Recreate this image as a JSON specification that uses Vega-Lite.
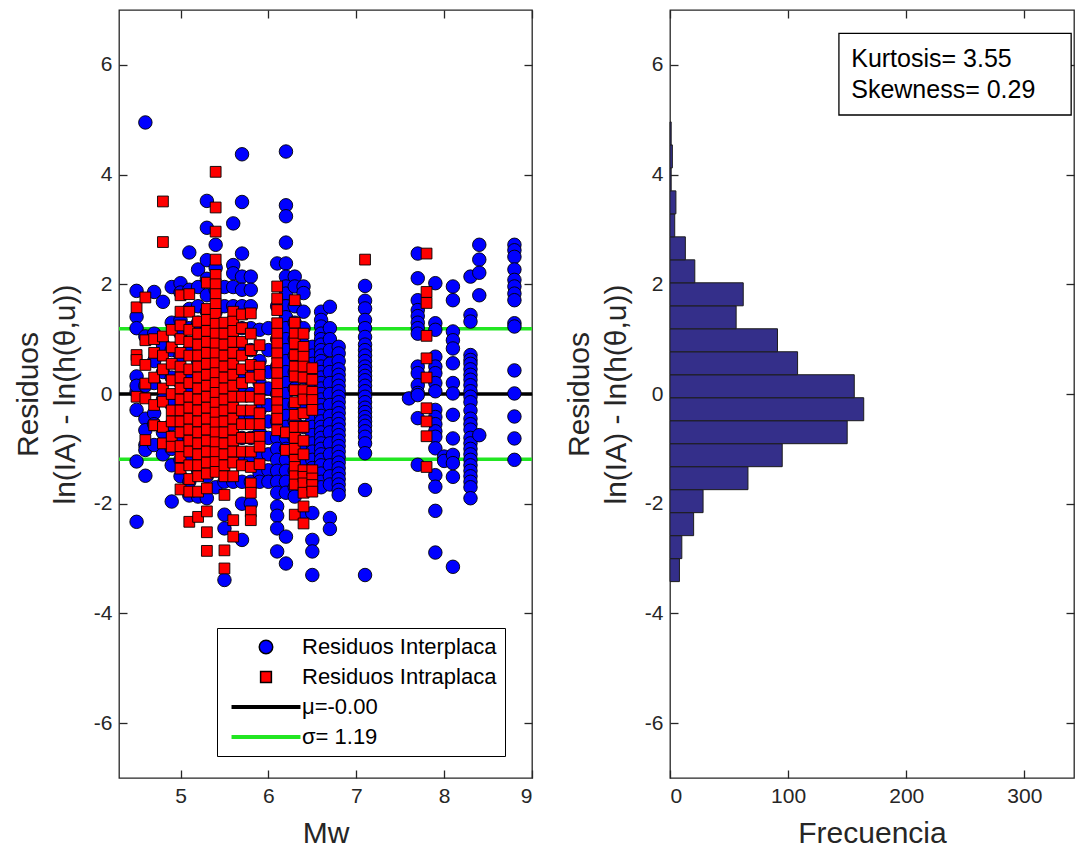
{
  "$schema": "https://vega.github.io/schema/vega-lite/v6.json",
  "background": "white",
  "padding": {"left": 12, "top": 8, "right": 0, "bottom": 0},
  "spacing": 28,
  "config": {
    "font": "Liberation Sans",
    "view": {"stroke": "#262626", "strokeWidth": 1.3},
    "axis": {"labelFont": "Liberation Sans", "titleFont": "Liberation Sans", "labelColor": "#262626", "titleColor": "#262626", "tickColor": "#262626", "domain": false, "grid": false, "labelFontSize": 21, "titleFontSize": 30, "titleFontWeight": "normal", "tickSize": -8, "tickWidth": 1.3, "titleLineHeight": 37}
  },
  "hconcat": [
    {
      "width": 413,
      "height": 768,
      "layer": [
        {
          "data": {"values": [{"v": 0}]},
          "mark": {"type": "rule", "color": "#000000", "strokeWidth": 3.5},
          "encoding": {"y": {"field": "v", "type": "quantitative", "scale": {"domain": [-7, 7], "nice": false}, "axis": null}}
        },
        {
          "data": {"values": [{"v": 1.19}, {"v": -1.19}]},
          "mark": {"type": "rule", "color": "#22e622", "strokeWidth": 3.5},
          "encoding": {"y": {"field": "v", "type": "quantitative", "axis": null}}
        },
        {
          "data": {"values": [
{"m":4.5,"r":1.88,"t":"P"},{"m":4.5,"r":1.41,"t":"P"},{"m":4.5,"r":1.2,"t":"P"},{"m":4.5,"r":0.32,"t":"P"},{"m":4.5,"r":0.04,"t":"P"},{"m":4.5,"r":-0.29,"t":"P"},{"m":4.5,"r":-1.23,"t":"P"},{"m":4.5,"r":-2.33,"t":"P"},{"m":4.5,"r":0.15,"t":"P"},
{"m":4.6,"r":4.95,"t":"P"},{"m":4.6,"r":1.05,"t":"P"},{"m":4.6,"r":0.15,"t":"P"},{"m":4.6,"r":-0.45,"t":"P"},{"m":4.6,"r":-0.66,"t":"P"},{"m":4.6,"r":-0.93,"t":"P"},{"m":4.6,"r":-1.02,"t":"P"},{"m":4.6,"r":-1.49,"t":"P"},
{"m":4.7,"r":1.86,"t":"P"},{"m":4.7,"r":1.1,"t":"P"},{"m":4.7,"r":0.6,"t":"P"},{"m":4.7,"r":0.2,"t":"P"},{"m":4.7,"r":-0.35,"t":"P"},{"m":4.7,"r":-0.55,"t":"P"},{"m":4.7,"r":-0.93,"t":"P"},
{"m":4.8,"r":1.68,"t":"P"},{"m":4.8,"r":0.9,"t":"P"},{"m":4.8,"r":0.4,"t":"P"},{"m":4.8,"r":-0.1,"t":"P"},{"m":4.8,"r":-0.7,"t":"P"},{"m":4.8,"r":-1.1,"t":"P"},
{"m":4.9,"r":1.95,"t":"P"},{"m":4.9,"r":1.3,"t":"P"},{"m":4.9,"r":0.8,"t":"P"},{"m":4.9,"r":0.3,"t":"P"},{"m":4.9,"r":-0.2,"t":"P"},{"m":4.9,"r":-0.55,"t":"P"},{"m":4.9,"r":-1.0,"t":"P"},{"m":4.9,"r":-1.3,"t":"P"},{"m":4.9,"r":-1.96,"t":"P"},
{"m":5.0,"r":2.02,"t":"P"},{"m":5.0,"r":1.85,"t":"P"},{"m":5.0,"r":1.35,"t":"P"},{"m":5.0,"r":1.1,"t":"P"},{"m":5.0,"r":0.7,"t":"P"},{"m":5.0,"r":0.2,"t":"P"},{"m":5.0,"r":-0.3,"t":"P"},{"m":5.0,"r":-0.8,"t":"P"},{"m":5.0,"r":-1.2,"t":"P"},{"m":5.0,"r":-1.5,"t":"P"},
{"m":5.1,"r":2.58,"t":"P"},{"m":5.1,"r":1.9,"t":"P"},{"m":5.1,"r":1.55,"t":"P"},{"m":5.1,"r":1.2,"t":"P"},{"m":5.1,"r":0.8,"t":"P"},{"m":5.1,"r":0.4,"t":"P"},{"m":5.1,"r":0.0,"t":"P"},{"m":5.1,"r":-0.4,"t":"P"},{"m":5.1,"r":-0.8,"t":"P"},{"m":5.1,"r":-1.2,"t":"P"},{"m":5.1,"r":-1.6,"t":"P"},{"m":5.1,"r":-1.85,"t":"P"},
{"m":5.2,"r":2.27,"t":"P"},{"m":5.2,"r":1.95,"t":"P"},{"m":5.2,"r":1.6,"t":"P"},{"m":5.2,"r":1.3,"t":"P"},{"m":5.2,"r":1.0,"t":"P"},{"m":5.2,"r":0.6,"t":"P"},{"m":5.2,"r":0.2,"t":"P"},{"m":5.2,"r":-0.2,"t":"P"},{"m":5.2,"r":-0.6,"t":"P"},{"m":5.2,"r":-1.0,"t":"P"},{"m":5.2,"r":-1.4,"t":"P"},{"m":5.2,"r":-1.87,"t":"P"},
{"m":5.3,"r":3.52,"t":"P"},{"m":5.3,"r":3.03,"t":"P"},{"m":5.3,"r":2.44,"t":"P"},{"m":5.3,"r":2.1,"t":"P"},{"m":5.3,"r":1.8,"t":"P"},{"m":5.3,"r":1.5,"t":"P"},{"m":5.3,"r":1.2,"t":"P"},{"m":5.3,"r":0.9,"t":"P"},{"m":5.3,"r":0.5,"t":"P"},{"m":5.3,"r":0.1,"t":"P"},{"m":5.3,"r":-0.3,"t":"P"},{"m":5.3,"r":-0.7,"t":"P"},{"m":5.3,"r":-1.1,"t":"P"},{"m":5.3,"r":-1.5,"t":"P"},{"m":5.3,"r":-1.9,"t":"P"},
{"m":5.4,"r":2.72,"t":"P"},{"m":5.4,"r":2.3,"t":"P"},{"m":5.4,"r":1.9,"t":"P"},{"m":5.4,"r":1.5,"t":"P"},{"m":5.4,"r":1.1,"t":"P"},{"m":5.4,"r":0.7,"t":"P"},{"m":5.4,"r":0.3,"t":"P"},{"m":5.4,"r":-0.1,"t":"P"},{"m":5.4,"r":-0.5,"t":"P"},{"m":5.4,"r":-0.9,"t":"P"},{"m":5.4,"r":-1.3,"t":"P"},{"m":5.4,"r":-1.7,"t":"P"},
{"m":5.5,"r":1.95,"t":"P"},{"m":5.5,"r":1.6,"t":"P"},{"m":5.5,"r":1.2,"t":"P"},{"m":5.5,"r":0.8,"t":"P"},{"m":5.5,"r":0.4,"t":"P"},{"m":5.5,"r":0.0,"t":"P"},{"m":5.5,"r":-0.4,"t":"P"},{"m":5.5,"r":-0.8,"t":"P"},{"m":5.5,"r":-1.2,"t":"P"},{"m":5.5,"r":-1.6,"t":"P"},{"m":5.5,"r":-2.2,"t":"P"},{"m":5.5,"r":-2.45,"t":"P"},{"m":5.5,"r":-3.39,"t":"P"},
{"m":5.6,"r":3.11,"t":"P"},{"m":5.6,"r":2.35,"t":"P"},{"m":5.6,"r":2.2,"t":"P"},{"m":5.6,"r":1.95,"t":"P"},{"m":5.6,"r":1.6,"t":"P"},{"m":5.6,"r":1.2,"t":"P"},{"m":5.6,"r":0.8,"t":"P"},{"m":5.6,"r":0.4,"t":"P"},{"m":5.6,"r":0.0,"t":"P"},{"m":5.6,"r":-0.4,"t":"P"},{"m":5.6,"r":-0.8,"t":"P"},{"m":5.6,"r":-1.2,"t":"P"},{"m":5.6,"r":-1.6,"t":"P"},
{"m":5.7,"r":4.37,"t":"P"},{"m":5.7,"r":3.5,"t":"P"},{"m":5.7,"r":2.56,"t":"P"},{"m":5.7,"r":2.14,"t":"P"},{"m":5.7,"r":1.9,"t":"P"},{"m":5.7,"r":1.6,"t":"P"},{"m":5.7,"r":1.2,"t":"P"},{"m":5.7,"r":0.8,"t":"P"},{"m":5.7,"r":0.4,"t":"P"},{"m":5.7,"r":0.0,"t":"P"},{"m":5.7,"r":-0.4,"t":"P"},{"m":5.7,"r":-0.8,"t":"P"},{"m":5.7,"r":-1.2,"t":"P"},{"m":5.7,"r":-1.6,"t":"P"},{"m":5.7,"r":-2.0,"t":"P"},{"m":5.7,"r":-2.66,"t":"P"},
{"m":5.8,"r":2.14,"t":"P"},{"m":5.8,"r":1.9,"t":"P"},{"m":5.8,"r":1.6,"t":"P"},{"m":5.8,"r":1.2,"t":"P"},{"m":5.8,"r":0.8,"t":"P"},{"m":5.8,"r":0.4,"t":"P"},{"m":5.8,"r":0.0,"t":"P"},{"m":5.8,"r":-0.4,"t":"P"},{"m":5.8,"r":-0.8,"t":"P"},{"m":5.8,"r":-1.2,"t":"P"},{"m":5.8,"r":-1.6,"t":"P"},{"m":5.8,"r":-2.0,"t":"P"},
{"m":5.9,"r":1.17,"t":"P"},{"m":5.9,"r":0.6,"t":"P"},{"m":5.9,"r":0.2,"t":"P"},{"m":5.9,"r":-0.3,"t":"P"},{"m":5.9,"r":-0.7,"t":"P"},{"m":5.9,"r":-1.1,"t":"P"},{"m":5.9,"r":-1.45,"t":"P"},{"m":5.9,"r":-1.6,"t":"P"},
{"m":6.0,"r":1.2,"t":"P"},{"m":6.0,"r":0.8,"t":"P"},{"m":6.0,"r":0.4,"t":"P"},{"m":6.0,"r":0.1,"t":"P"},{"m":6.0,"r":-0.2,"t":"P"},{"m":6.0,"r":-0.5,"t":"P"},{"m":6.0,"r":-0.8,"t":"P"},{"m":6.0,"r":-1.1,"t":"P"},{"m":6.0,"r":-1.39,"t":"P"},{"m":6.0,"r":-1.6,"t":"P"},
{"m":6.1,"r":2.38,"t":"P"},{"m":6.1,"r":1.6,"t":"P"},{"m":6.1,"r":1.0,"t":"P"},{"m":6.1,"r":0.5,"t":"P"},{"m":6.1,"r":0.0,"t":"P"},{"m":6.1,"r":-0.5,"t":"P"},{"m":6.1,"r":-0.8,"t":"P"},{"m":6.1,"r":-1.0,"t":"P"},{"m":6.1,"r":-1.2,"t":"P"},{"m":6.1,"r":-1.4,"t":"P"},{"m":6.1,"r":-1.6,"t":"P"},{"m":6.1,"r":-1.8,"t":"P"},{"m":6.1,"r":-2.05,"t":"P"},{"m":6.1,"r":-2.22,"t":"P"},{"m":6.1,"r":-2.45,"t":"P"},{"m":6.1,"r":-2.87,"t":"P"},
{"m":6.2,"r":4.42,"t":"P"},{"m":6.2,"r":3.44,"t":"P"},{"m":6.2,"r":3.24,"t":"P"},{"m":6.2,"r":2.76,"t":"P"},{"m":6.2,"r":2.38,"t":"P"},{"m":6.2,"r":2.14,"t":"P"},{"m":6.2,"r":1.96,"t":"P"},{"m":6.2,"r":1.83,"t":"P"},{"m":6.2,"r":1.6,"t":"P"},{"m":6.2,"r":1.4,"t":"P"},{"m":6.2,"r":1.2,"t":"P"},{"m":6.2,"r":1.0,"t":"P"},{"m":6.2,"r":0.8,"t":"P"},{"m":6.2,"r":0.6,"t":"P"},{"m":6.2,"r":0.4,"t":"P"},{"m":6.2,"r":0.2,"t":"P"},{"m":6.2,"r":0.0,"t":"P"},{"m":6.2,"r":-0.2,"t":"P"},{"m":6.2,"r":-0.4,"t":"P"},{"m":6.2,"r":-0.6,"t":"P"},{"m":6.2,"r":-0.8,"t":"P"},{"m":6.2,"r":-1.0,"t":"P"},{"m":6.2,"r":-1.2,"t":"P"},{"m":6.2,"r":-1.4,"t":"P"},{"m":6.2,"r":-1.6,"t":"P"},{"m":6.2,"r":-1.8,"t":"P"},{"m":6.2,"r":-2.6,"t":"P"},{"m":6.2,"r":-3.09,"t":"P"},
{"m":6.3,"r":2.14,"t":"P"},{"m":6.3,"r":1.96,"t":"P"},{"m":6.3,"r":1.6,"t":"P"},{"m":6.3,"r":1.3,"t":"P"},{"m":6.3,"r":1.0,"t":"P"},{"m":6.3,"r":0.7,"t":"P"},{"m":6.3,"r":0.4,"t":"P"},{"m":6.3,"r":0.1,"t":"P"},{"m":6.3,"r":-0.2,"t":"P"},{"m":6.3,"r":-0.5,"t":"P"},{"m":6.3,"r":-0.8,"t":"P"},{"m":6.3,"r":-1.1,"t":"P"},{"m":6.3,"r":-1.4,"t":"P"},{"m":6.3,"r":-1.7,"t":"P"},{"m":6.3,"r":-1.87,"t":"P"},
{"m":6.4,"r":1.96,"t":"P"},{"m":6.4,"r":1.84,"t":"P"},{"m":6.4,"r":1.5,"t":"P"},{"m":6.4,"r":1.2,"t":"P"},{"m":6.4,"r":0.9,"t":"P"},{"m":6.4,"r":0.6,"t":"P"},{"m":6.4,"r":0.3,"t":"P"},{"m":6.4,"r":0.0,"t":"P"},{"m":6.4,"r":-0.3,"t":"P"},{"m":6.4,"r":-0.6,"t":"P"},{"m":6.4,"r":-0.9,"t":"P"},{"m":6.4,"r":-1.2,"t":"P"},{"m":6.4,"r":-1.5,"t":"P"},{"m":6.4,"r":-2.2,"t":"P"},
{"m":6.5,"r":0.86,"t":"P"},{"m":6.5,"r":0.7,"t":"P"},{"m":6.5,"r":0.55,"t":"P"},{"m":6.5,"r":0.4,"t":"P"},{"m":6.5,"r":0.3,"t":"P"},{"m":6.5,"r":0.15,"t":"P"},{"m":6.5,"r":0.0,"t":"P"},{"m":6.5,"r":-0.15,"t":"P"},{"m":6.5,"r":-0.3,"t":"P"},{"m":6.5,"r":-0.45,"t":"P"},{"m":6.5,"r":-0.6,"t":"P"},{"m":6.5,"r":-0.75,"t":"P"},{"m":6.5,"r":-0.9,"t":"P"},{"m":6.5,"r":-1.05,"t":"P"},{"m":6.5,"r":-1.2,"t":"P"},{"m":6.5,"r":-1.35,"t":"P"},{"m":6.5,"r":-1.5,"t":"P"},{"m":6.5,"r":-1.65,"t":"P"},{"m":6.5,"r":-2.17,"t":"P"},{"m":6.5,"r":-2.66,"t":"P"},{"m":6.5,"r":-2.87,"t":"P"},{"m":6.5,"r":-3.3,"t":"P"},
{"m":6.6,"r":1.5,"t":"P"},{"m":6.6,"r":1.35,"t":"P"},{"m":6.6,"r":1.23,"t":"P"},{"m":6.6,"r":1.1,"t":"P"},{"m":6.6,"r":1.0,"t":"P"},{"m":6.6,"r":0.9,"t":"P"},{"m":6.6,"r":0.8,"t":"P"},{"m":6.6,"r":0.7,"t":"P"},{"m":6.6,"r":0.6,"t":"P"},{"m":6.6,"r":0.5,"t":"P"},{"m":6.6,"r":0.4,"t":"P"},{"m":6.6,"r":0.3,"t":"P"},{"m":6.6,"r":0.2,"t":"P"},{"m":6.6,"r":0.1,"t":"P"},{"m":6.6,"r":0.0,"t":"P"},{"m":6.6,"r":-0.1,"t":"P"},{"m":6.6,"r":-0.2,"t":"P"},{"m":6.6,"r":-0.3,"t":"P"},{"m":6.6,"r":-0.4,"t":"P"},{"m":6.6,"r":-0.5,"t":"P"},{"m":6.6,"r":-0.6,"t":"P"},{"m":6.6,"r":-0.7,"t":"P"},{"m":6.6,"r":-0.8,"t":"P"},{"m":6.6,"r":-0.9,"t":"P"},{"m":6.6,"r":-1.0,"t":"P"},{"m":6.6,"r":-1.1,"t":"P"},{"m":6.6,"r":-1.2,"t":"P"},{"m":6.6,"r":-1.3,"t":"P"},{"m":6.6,"r":-1.45,"t":"P"},{"m":6.6,"r":-1.6,"t":"P"},{"m":6.6,"r":-1.7,"t":"P"},
{"m":6.7,"r":1.59,"t":"P"},{"m":6.7,"r":1.2,"t":"P"},{"m":6.7,"r":1.0,"t":"P"},{"m":6.7,"r":0.8,"t":"P"},{"m":6.7,"r":0.55,"t":"P"},{"m":6.7,"r":0.4,"t":"P"},{"m":6.7,"r":0.2,"t":"P"},{"m":6.7,"r":0.0,"t":"P"},{"m":6.7,"r":-0.2,"t":"P"},{"m":6.7,"r":-0.4,"t":"P"},{"m":6.7,"r":-0.55,"t":"P"},{"m":6.7,"r":-0.7,"t":"P"},{"m":6.7,"r":-0.9,"t":"P"},{"m":6.7,"r":-1.1,"t":"P"},{"m":6.7,"r":-1.3,"t":"P"},{"m":6.7,"r":-1.5,"t":"P"},{"m":6.7,"r":-1.65,"t":"P"},{"m":6.7,"r":-2.26,"t":"P"},{"m":6.7,"r":-2.46,"t":"P"},
{"m":6.8,"r":0.86,"t":"P"},{"m":6.8,"r":0.74,"t":"P"},{"m":6.8,"r":0.6,"t":"P"},{"m":6.8,"r":0.45,"t":"P"},{"m":6.8,"r":0.35,"t":"P"},{"m":6.8,"r":0.25,"t":"P"},{"m":6.8,"r":0.15,"t":"P"},{"m":6.8,"r":0.05,"t":"P"},{"m":6.8,"r":-0.05,"t":"P"},{"m":6.8,"r":-0.15,"t":"P"},{"m":6.8,"r":-0.25,"t":"P"},{"m":6.8,"r":-0.35,"t":"P"},{"m":6.8,"r":-0.45,"t":"P"},{"m":6.8,"r":-0.55,"t":"P"},{"m":6.8,"r":-0.65,"t":"P"},{"m":6.8,"r":-0.75,"t":"P"},{"m":6.8,"r":-0.85,"t":"P"},{"m":6.8,"r":-0.95,"t":"P"},{"m":6.8,"r":-1.05,"t":"P"},{"m":6.8,"r":-1.15,"t":"P"},{"m":6.8,"r":-1.25,"t":"P"},{"m":6.8,"r":-1.35,"t":"P"},{"m":6.8,"r":-1.45,"t":"P"},{"m":6.8,"r":-1.55,"t":"P"},{"m":6.8,"r":-1.65,"t":"P"},{"m":6.8,"r":-1.75,"t":"P"},{"m":6.8,"r":-1.84,"t":"P"},
{"m":7.1,"r":1.97,"t":"P"},{"m":7.1,"r":1.7,"t":"P"},{"m":7.1,"r":1.56,"t":"P"},{"m":7.1,"r":1.35,"t":"P"},{"m":7.1,"r":1.2,"t":"P"},{"m":7.1,"r":1.04,"t":"P"},{"m":7.1,"r":0.9,"t":"P"},{"m":7.1,"r":0.8,"t":"P"},{"m":7.1,"r":0.7,"t":"P"},{"m":7.1,"r":0.6,"t":"P"},{"m":7.1,"r":0.5,"t":"P"},{"m":7.1,"r":0.42,"t":"P"},{"m":7.1,"r":0.33,"t":"P"},{"m":7.1,"r":0.25,"t":"P"},{"m":7.1,"r":0.15,"t":"P"},{"m":7.1,"r":0.05,"t":"P"},{"m":7.1,"r":-0.05,"t":"P"},{"m":7.1,"r":-0.15,"t":"P"},{"m":7.1,"r":-0.25,"t":"P"},{"m":7.1,"r":-0.33,"t":"P"},{"m":7.1,"r":-0.42,"t":"P"},{"m":7.1,"r":-0.5,"t":"P"},{"m":7.1,"r":-0.58,"t":"P"},{"m":7.1,"r":-0.68,"t":"P"},{"m":7.1,"r":-0.78,"t":"P"},{"m":7.1,"r":-0.9,"t":"P"},{"m":7.1,"r":-1.08,"t":"P"},{"m":7.1,"r":-1.75,"t":"P"},{"m":7.1,"r":-3.3,"t":"P"},
{"m":7.6,"r":-0.08,"t":"P"},
{"m":7.7,"r":2.56,"t":"P"},{"m":7.7,"r":2.11,"t":"P"},{"m":7.7,"r":1.71,"t":"P"},{"m":7.7,"r":1.53,"t":"P"},{"m":7.7,"r":1.42,"t":"P"},{"m":7.7,"r":1.3,"t":"P"},{"m":7.7,"r":1.2,"t":"P"},{"m":7.7,"r":1.1,"t":"P"},{"m":7.7,"r":0.5,"t":"P"},{"m":7.7,"r":0.38,"t":"P"},{"m":7.7,"r":0.16,"t":"P"},{"m":7.7,"r":0.02,"t":"P"},{"m":7.7,"r":-0.02,"t":"P"},{"m":7.7,"r":-0.44,"t":"P"},{"m":7.7,"r":-1.29,"t":"P"},
{"m":7.9,"r":2.02,"t":"P"},{"m":7.9,"r":1.29,"t":"P"},{"m":7.9,"r":1.17,"t":"P"},{"m":7.9,"r":0.68,"t":"P"},{"m":7.9,"r":0.5,"t":"P"},{"m":7.9,"r":0.38,"t":"P"},{"m":7.9,"r":0.2,"t":"P"},{"m":7.9,"r":0.05,"t":"P"},{"m":7.9,"r":-0.29,"t":"P"},{"m":7.9,"r":-0.42,"t":"P"},{"m":7.9,"r":-0.55,"t":"P"},{"m":7.9,"r":-0.68,"t":"P"},{"m":7.9,"r":-0.78,"t":"P"},{"m":7.9,"r":-0.99,"t":"P"},{"m":7.9,"r":-1.48,"t":"P"},{"m":7.9,"r":-1.69,"t":"P"},{"m":7.9,"r":-2.13,"t":"P"},{"m":7.9,"r":-2.89,"t":"P"},
{"m":8.0,"r":-1.14,"t":"P"},{"m":8.0,"r":-1.22,"t":"P"},
{"m":8.1,"r":1.96,"t":"P"},{"m":8.1,"r":1.71,"t":"P"},{"m":8.1,"r":1.14,"t":"P"},{"m":8.1,"r":0.98,"t":"P"},{"m":8.1,"r":0.83,"t":"P"},{"m":8.1,"r":0.56,"t":"P"},{"m":8.1,"r":0.2,"t":"P"},{"m":8.1,"r":0.01,"t":"P"},{"m":8.1,"r":-0.38,"t":"P"},{"m":8.1,"r":-0.81,"t":"P"},{"m":8.1,"r":-1.11,"t":"P"},{"m":8.1,"r":-1.26,"t":"P"},{"m":8.1,"r":-1.51,"t":"P"},{"m":8.1,"r":-3.15,"t":"P"},
{"m":8.3,"r":2.14,"t":"P"},{"m":8.3,"r":1.44,"t":"P"},{"m":8.3,"r":1.32,"t":"P"},{"m":8.3,"r":0.71,"t":"P"},{"m":8.3,"r":0.62,"t":"P"},{"m":8.3,"r":0.55,"t":"P"},{"m":8.3,"r":0.45,"t":"P"},{"m":8.3,"r":0.35,"t":"P"},{"m":8.3,"r":0.26,"t":"P"},{"m":8.3,"r":0.16,"t":"P"},{"m":8.3,"r":0.05,"t":"P"},{"m":8.3,"r":-0.05,"t":"P"},{"m":8.3,"r":-0.15,"t":"P"},{"m":8.3,"r":-0.3,"t":"P"},{"m":8.3,"r":-0.45,"t":"P"},{"m":8.3,"r":-0.55,"t":"P"},{"m":8.3,"r":-0.65,"t":"P"},{"m":8.3,"r":-0.8,"t":"P"},{"m":8.3,"r":-0.9,"t":"P"},{"m":8.3,"r":-1.0,"t":"P"},{"m":8.3,"r":-1.1,"t":"P"},{"m":8.3,"r":-1.2,"t":"P"},{"m":8.3,"r":-1.3,"t":"P"},{"m":8.3,"r":-1.4,"t":"P"},{"m":8.3,"r":-1.5,"t":"P"},{"m":8.3,"r":-1.6,"t":"P"},{"m":8.3,"r":-1.7,"t":"P"},{"m":8.3,"r":-1.9,"t":"P"},
{"m":8.4,"r":2.72,"t":"P"},{"m":8.4,"r":2.45,"t":"P"},{"m":8.4,"r":2.21,"t":"P"},{"m":8.4,"r":1.8,"t":"P"},{"m":8.4,"r":-0.75,"t":"P"},
{"m":8.8,"r":2.72,"t":"P"},{"m":8.8,"r":2.62,"t":"P"},{"m":8.8,"r":2.5,"t":"P"},{"m":8.8,"r":2.27,"t":"P"},{"m":8.8,"r":2.08,"t":"P"},{"m":8.8,"r":1.96,"t":"P"},{"m":8.8,"r":1.83,"t":"P"},{"m":8.8,"r":1.71,"t":"P"},{"m":8.8,"r":1.29,"t":"P"},{"m":8.8,"r":1.23,"t":"P"},{"m":8.8,"r":0.43,"t":"P"},{"m":8.8,"r":0.01,"t":"P"},{"m":8.8,"r":-0.41,"t":"P"},{"m":8.8,"r":-0.81,"t":"P"},{"m":8.8,"r":-1.2,"t":"P"},
{"m":4.5,"r":1.58,"t":"A"},{"m":4.5,"r":0.71,"t":"A"},{"m":4.5,"r":0.62,"t":"A"},{"m":4.5,"r":-0.05,"t":"A"},
{"m":4.6,"r":1.76,"t":"A"},{"m":4.6,"r":0.98,"t":"A"},{"m":4.6,"r":0.53,"t":"A"},{"m":4.6,"r":0.19,"t":"A"},{"m":4.6,"r":-0.08,"t":"A"},{"m":4.6,"r":-0.84,"t":"A"},
{"m":4.7,"r":1.0,"t":"A"},{"m":4.7,"r":0.75,"t":"A"},{"m":4.7,"r":0.3,"t":"A"},{"m":4.7,"r":-0.2,"t":"A"},{"m":4.7,"r":-0.57,"t":"A"},
{"m":4.8,"r":3.51,"t":"A"},{"m":4.8,"r":2.77,"t":"A"},{"m":4.8,"r":1.05,"t":"A"},{"m":4.8,"r":0.7,"t":"A"},{"m":4.8,"r":0.45,"t":"A"},{"m":4.8,"r":0.1,"t":"A"},{"m":4.8,"r":-0.14,"t":"A"},{"m":4.8,"r":-0.6,"t":"A"},{"m":4.8,"r":-0.9,"t":"A"},
{"m":4.9,"r":1.17,"t":"A"},{"m":4.9,"r":0.85,"t":"A"},{"m":4.9,"r":0.55,"t":"A"},{"m":4.9,"r":0.25,"t":"A"},{"m":4.9,"r":0.0,"t":"A"},{"m":4.9,"r":-0.3,"t":"A"},{"m":4.9,"r":-0.5,"t":"A"},{"m":4.9,"r":-0.78,"t":"A"},{"m":4.9,"r":-0.96,"t":"A"},
{"m":5.0,"r":1.8,"t":"A"},{"m":5.0,"r":1.5,"t":"A"},{"m":5.0,"r":1.25,"t":"A"},{"m":5.0,"r":1.0,"t":"A"},{"m":5.0,"r":0.75,"t":"A"},{"m":5.0,"r":0.5,"t":"A"},{"m":5.0,"r":0.3,"t":"A"},{"m":5.0,"r":0.1,"t":"A"},{"m":5.0,"r":-0.1,"t":"A"},{"m":5.0,"r":-0.3,"t":"A"},{"m":5.0,"r":-0.5,"t":"A"},{"m":5.0,"r":-0.7,"t":"A"},{"m":5.0,"r":-0.95,"t":"A"},{"m":5.0,"r":-1.15,"t":"A"},{"m":5.0,"r":-1.36,"t":"A"},{"m":5.0,"r":-1.74,"t":"A"},
{"m":5.1,"r":1.82,"t":"A"},{"m":5.1,"r":1.5,"t":"A"},{"m":5.1,"r":1.17,"t":"A"},{"m":5.1,"r":0.95,"t":"A"},{"m":5.1,"r":0.7,"t":"A"},{"m":5.1,"r":0.45,"t":"A"},{"m":5.1,"r":0.2,"t":"A"},{"m":5.1,"r":-0.05,"t":"A"},{"m":5.1,"r":-0.25,"t":"A"},{"m":5.1,"r":-0.45,"t":"A"},{"m":5.1,"r":-0.65,"t":"A"},{"m":5.1,"r":-0.85,"t":"A"},{"m":5.1,"r":-1.05,"t":"A"},{"m":5.1,"r":-1.3,"t":"A"},{"m":5.1,"r":-1.55,"t":"A"},{"m":5.1,"r":-1.78,"t":"A"},{"m":5.1,"r":-2.33,"t":"A"},
{"m":5.2,"r":1.32,"t":"A"},{"m":5.2,"r":1.1,"t":"A"},{"m":5.2,"r":0.9,"t":"A"},{"m":5.2,"r":0.7,"t":"A"},{"m":5.2,"r":0.5,"t":"A"},{"m":5.2,"r":0.3,"t":"A"},{"m":5.2,"r":0.1,"t":"A"},{"m":5.2,"r":-0.1,"t":"A"},{"m":5.2,"r":-0.3,"t":"A"},{"m":5.2,"r":-0.5,"t":"A"},{"m":5.2,"r":-0.7,"t":"A"},{"m":5.2,"r":-0.9,"t":"A"},{"m":5.2,"r":-1.1,"t":"A"},{"m":5.2,"r":-1.3,"t":"A"},{"m":5.2,"r":-1.5,"t":"A"},{"m":5.2,"r":-1.78,"t":"A"},{"m":5.2,"r":-2.24,"t":"A"},
{"m":5.3,"r":2.03,"t":"A"},{"m":5.3,"r":1.55,"t":"A"},{"m":5.3,"r":1.35,"t":"A"},{"m":5.3,"r":1.15,"t":"A"},{"m":5.3,"r":0.95,"t":"A"},{"m":5.3,"r":0.75,"t":"A"},{"m":5.3,"r":0.55,"t":"A"},{"m":5.3,"r":0.35,"t":"A"},{"m":5.3,"r":0.15,"t":"A"},{"m":5.3,"r":-0.05,"t":"A"},{"m":5.3,"r":-0.25,"t":"A"},{"m":5.3,"r":-0.45,"t":"A"},{"m":5.3,"r":-0.65,"t":"A"},{"m":5.3,"r":-0.85,"t":"A"},{"m":5.3,"r":-1.05,"t":"A"},{"m":5.3,"r":-1.25,"t":"A"},{"m":5.3,"r":-1.45,"t":"A"},{"m":5.3,"r":-1.72,"t":"A"},{"m":5.3,"r":-2.14,"t":"A"},{"m":5.3,"r":-2.52,"t":"A"},{"m":5.3,"r":-2.86,"t":"A"},
{"m":5.4,"r":4.05,"t":"A"},{"m":5.4,"r":3.4,"t":"A"},{"m":5.4,"r":2.96,"t":"A"},{"m":5.4,"r":2.45,"t":"A"},{"m":5.4,"r":2.17,"t":"A"},{"m":5.4,"r":2.0,"t":"A"},{"m":5.4,"r":1.82,"t":"A"},{"m":5.4,"r":1.64,"t":"A"},{"m":5.4,"r":1.46,"t":"A"},{"m":5.4,"r":1.28,"t":"A"},{"m":5.4,"r":1.1,"t":"A"},{"m":5.4,"r":0.92,"t":"A"},{"m":5.4,"r":0.74,"t":"A"},{"m":5.4,"r":0.56,"t":"A"},{"m":5.4,"r":0.38,"t":"A"},{"m":5.4,"r":0.2,"t":"A"},{"m":5.4,"r":0.02,"t":"A"},{"m":5.4,"r":-0.16,"t":"A"},{"m":5.4,"r":-0.34,"t":"A"},{"m":5.4,"r":-0.52,"t":"A"},{"m":5.4,"r":-0.7,"t":"A"},{"m":5.4,"r":-0.88,"t":"A"},{"m":5.4,"r":-1.06,"t":"A"},{"m":5.4,"r":-1.24,"t":"A"},{"m":5.4,"r":-1.42,"t":"A"},
{"m":5.5,"r":1.3,"t":"A"},{"m":5.5,"r":1.1,"t":"A"},{"m":5.5,"r":0.9,"t":"A"},{"m":5.5,"r":0.7,"t":"A"},{"m":5.5,"r":0.5,"t":"A"},{"m":5.5,"r":0.3,"t":"A"},{"m":5.5,"r":0.1,"t":"A"},{"m":5.5,"r":-0.1,"t":"A"},{"m":5.5,"r":-0.3,"t":"A"},{"m":5.5,"r":-0.5,"t":"A"},{"m":5.5,"r":-0.7,"t":"A"},{"m":5.5,"r":-0.9,"t":"A"},{"m":5.5,"r":-1.1,"t":"A"},{"m":5.5,"r":-1.3,"t":"A"},{"m":5.5,"r":-1.5,"t":"A"},{"m":5.5,"r":-1.84,"t":"A"},{"m":5.5,"r":-2.85,"t":"A"},{"m":5.5,"r":-3.18,"t":"A"},
{"m":5.6,"r":1.5,"t":"A"},{"m":5.6,"r":1.32,"t":"A"},{"m":5.6,"r":1.15,"t":"A"},{"m":5.6,"r":0.95,"t":"A"},{"m":5.6,"r":0.75,"t":"A"},{"m":5.6,"r":0.55,"t":"A"},{"m":5.6,"r":0.35,"t":"A"},{"m":5.6,"r":0.15,"t":"A"},{"m":5.6,"r":-0.05,"t":"A"},{"m":5.6,"r":-0.25,"t":"A"},{"m":5.6,"r":-0.45,"t":"A"},{"m":5.6,"r":-0.65,"t":"A"},{"m":5.6,"r":-0.85,"t":"A"},{"m":5.6,"r":-1.05,"t":"A"},{"m":5.6,"r":-1.25,"t":"A"},{"m":5.6,"r":-1.5,"t":"A"},{"m":5.6,"r":-2.3,"t":"A"},{"m":5.6,"r":-2.6,"t":"A"},
{"m":5.7,"r":1.45,"t":"A"},{"m":5.7,"r":1.2,"t":"A"},{"m":5.7,"r":0.95,"t":"A"},{"m":5.7,"r":0.7,"t":"A"},{"m":5.7,"r":0.45,"t":"A"},{"m":5.7,"r":0.2,"t":"A"},{"m":5.7,"r":-0.05,"t":"A"},{"m":5.7,"r":-0.3,"t":"A"},{"m":5.7,"r":-0.55,"t":"A"},{"m":5.7,"r":-0.8,"t":"A"},{"m":5.7,"r":-1.05,"t":"A"},{"m":5.7,"r":-1.3,"t":"A"},
{"m":5.8,"r":1.47,"t":"A"},{"m":5.8,"r":1.1,"t":"A"},{"m":5.8,"r":0.8,"t":"A"},{"m":5.8,"r":0.53,"t":"A"},{"m":5.8,"r":0.3,"t":"A"},{"m":5.8,"r":-0.05,"t":"A"},{"m":5.8,"r":-0.3,"t":"A"},{"m":5.8,"r":-0.55,"t":"A"},{"m":5.8,"r":-0.8,"t":"A"},{"m":5.8,"r":-1.05,"t":"A"},{"m":5.8,"r":-1.33,"t":"A"},{"m":5.8,"r":-1.63,"t":"A"},{"m":5.8,"r":-1.8,"t":"A"},{"m":5.8,"r":-2.14,"t":"A"},{"m":5.8,"r":-2.3,"t":"A"},
{"m":5.9,"r":0.89,"t":"A"},{"m":5.9,"r":0.5,"t":"A"},{"m":5.9,"r":0.35,"t":"A"},{"m":5.9,"r":0.1,"t":"A"},{"m":5.9,"r":-0.1,"t":"A"},{"m":5.9,"r":-0.35,"t":"A"},{"m":5.9,"r":-0.55,"t":"A"},{"m":5.9,"r":-0.78,"t":"A"},{"m":5.9,"r":-0.96,"t":"A"},{"m":5.9,"r":-1.28,"t":"A"},
{"m":6.1,"r":1.96,"t":"A"},{"m":6.1,"r":1.74,"t":"A"},{"m":6.1,"r":1.53,"t":"A"},{"m":6.1,"r":1.29,"t":"A"},{"m":6.1,"r":1.1,"t":"A"},{"m":6.1,"r":0.92,"t":"A"},{"m":6.1,"r":0.74,"t":"A"},{"m":6.1,"r":0.56,"t":"A"},{"m":6.1,"r":0.38,"t":"A"},{"m":6.1,"r":0.19,"t":"A"},{"m":6.1,"r":0.0,"t":"A"},{"m":6.1,"r":-0.15,"t":"A"},{"m":6.1,"r":-0.3,"t":"A"},{"m":6.1,"r":-0.45,"t":"A"},{"m":6.1,"r":-0.66,"t":"A"},
{"m":6.2,"r":-0.7,"t":"A"},{"m":6.2,"r":-1.02,"t":"A"},
{"m":6.3,"r":1.71,"t":"A"},{"m":6.3,"r":1.3,"t":"A"},{"m":6.3,"r":1.1,"t":"A"},{"m":6.3,"r":0.92,"t":"A"},{"m":6.3,"r":0.71,"t":"A"},{"m":6.3,"r":0.5,"t":"A"},{"m":6.3,"r":0.32,"t":"A"},{"m":6.3,"r":0.07,"t":"A"},{"m":6.3,"r":-0.15,"t":"A"},{"m":6.3,"r":-0.38,"t":"A"},{"m":6.3,"r":-0.6,"t":"A"},{"m":6.3,"r":-0.8,"t":"A"},{"m":6.3,"r":-1.0,"t":"A"},{"m":6.3,"r":-1.2,"t":"A"},{"m":6.3,"r":-1.33,"t":"A"},{"m":6.3,"r":-1.5,"t":"A"},{"m":6.3,"r":-1.65,"t":"A"},{"m":6.3,"r":-2.2,"t":"A"},
{"m":6.4,"r":1.1,"t":"A"},{"m":6.4,"r":0.86,"t":"A"},{"m":6.4,"r":0.68,"t":"A"},{"m":6.4,"r":0.5,"t":"A"},{"m":6.4,"r":0.3,"t":"A"},{"m":6.4,"r":0.07,"t":"A"},{"m":6.4,"r":-0.1,"t":"A"},{"m":6.4,"r":-0.35,"t":"A"},{"m":6.4,"r":-0.6,"t":"A"},{"m":6.4,"r":-0.85,"t":"A"},{"m":6.4,"r":-1.1,"t":"A"},{"m":6.4,"r":-1.39,"t":"A"},{"m":6.4,"r":-1.51,"t":"A"},{"m":6.4,"r":-1.63,"t":"A"},{"m":6.4,"r":-1.8,"t":"A"},{"m":6.4,"r":-2.05,"t":"A"},{"m":6.4,"r":-2.36,"t":"A"},
{"m":6.5,"r":0.47,"t":"A"},{"m":6.5,"r":0.26,"t":"A"},{"m":6.5,"r":0.04,"t":"A"},{"m":6.5,"r":-0.11,"t":"A"},{"m":6.5,"r":-0.29,"t":"A"},{"m":6.5,"r":-1.39,"t":"A"},{"m":6.5,"r":-1.54,"t":"A"},{"m":6.5,"r":-1.66,"t":"A"},{"m":6.5,"r":-1.78,"t":"A"},
{"m":7.1,"r":2.45,"t":"A"},
{"m":7.8,"r":2.56,"t":"A"},{"m":7.8,"r":1.86,"t":"A"},{"m":7.8,"r":1.66,"t":"A"},{"m":7.8,"r":1.06,"t":"A"},{"m":7.8,"r":0.65,"t":"A"},{"m":7.8,"r":0.3,"t":"A"},{"m":7.8,"r":-0.26,"t":"A"},{"m":7.8,"r":-0.5,"t":"A"},{"m":7.8,"r":-0.77,"t":"A"},{"m":7.8,"r":-1.33,"t":"A"}
          ]},
          "mark": {"type": "point", "filled": true, "size": 182, "opacity": 1, "strokeWidth": 0.9},
          "encoding": {
            "x": {"field": "m", "type": "quantitative", "scale": {"domain": [4.3, 9], "nice": false, "zero": false}, "axis": {"values": [5, 6, 7, 8, 9], "title": "Mw", "labelPadding": 15, "titlePadding": 12}},
            "y": {"field": "r", "type": "quantitative", "axis": {"values": [-6, -4, -2, 0, 2, 4, 6], "labelExpr": "toString(datum.value)", "title": ["Residuos", "ln(IA) - ln(h(θ,u))"], "labelPadding": 15, "titlePadding": 13}},
            "color": {"field": "t", "type": "nominal", "scale": {"domain": ["P", "A", "M", "S"], "range": ["#0000ff", "#ff0000", "#000000", "#22e622"]},
              "legend": {"orient": "none", "legendX": 98, "legendY": 618, "title": null, "direction": "vertical",
                "labelExpr": "datum.value == 'P' ? 'Residuos Interplaca' : datum.value == 'A' ? 'Residuos Intraplaca' : datum.value == 'M' ? 'μ=-0.00' : 'σ= 1.19'",
                "labelFont": "Liberation Sans", "labelFontSize": 22, "labelColor": "#000000", "labelLimit": 0, "symbolSize": 182, "symbolOffset": 30, "labelOffset": 25, "rowPadding": 8, "padding": 8, "strokeColor": "#000000", "fillColor": "#ffffff"}},
            "shape": {"field": "t", "type": "nominal", "scale": {"domain": ["P", "A", "M", "S"], "range": ["circle", "M-0.8,-0.8H0.8V0.8H-0.8Z", "M-5,-0.2H5V0.2H-5Z", "M-5,-0.2H5V0.2H-5Z"]}},
            "stroke": {"field": "t", "type": "nominal", "scale": {"domain": ["P", "A", "M", "S"], "range": ["#000000", "#000000", "#000000", "#22e622"]}}
          }
        },
        {
          "data": {"values": [{"m": 5, "r": 0}]},
          "mark": {"type": "point", "opacity": 0},
          "encoding": {
            "x": {"field": "m", "type": "quantitative", "axis": {"orient": "top", "values": [5, 6, 7, 8, 9], "labels": false, "title": null}},
            "y": {"field": "r", "type": "quantitative", "axis": {"orient": "right", "values": [-6, -4, -2, 0, 2, 4, 6], "labels": false, "title": null}}
          }
        }
      ],
      "resolve": {"axis": {"x": "independent", "y": "independent"}}
    },
    {
      "width": 404,
      "height": 768,
      "layer": [
        {
          "data": {"values": [
            {"lo": -3.42, "hi": -3.001, "n": 8},
            {"lo": -3.001, "hi": -2.582, "n": 10},
            {"lo": -2.582, "hi": -2.163, "n": 20},
            {"lo": -2.163, "hi": -1.744, "n": 28},
            {"lo": -1.744, "hi": -1.325, "n": 66},
            {"lo": -1.325, "hi": -0.906, "n": 95},
            {"lo": -0.906, "hi": -0.487, "n": 150},
            {"lo": -0.487, "hi": -0.068, "n": 164},
            {"lo": -0.068, "hi": 0.351, "n": 156},
            {"lo": 0.351, "hi": 0.77, "n": 108},
            {"lo": 0.77, "hi": 1.189, "n": 91},
            {"lo": 1.189, "hi": 1.608, "n": 56},
            {"lo": 1.608, "hi": 2.027, "n": 62},
            {"lo": 2.027, "hi": 2.446, "n": 21},
            {"lo": 2.446, "hi": 2.865, "n": 13},
            {"lo": 2.865, "hi": 3.284, "n": 4},
            {"lo": 3.284, "hi": 3.703, "n": 5},
            {"lo": 3.703, "hi": 4.122, "n": 1},
            {"lo": 4.122, "hi": 4.541, "n": 2},
            {"lo": 4.541, "hi": 4.96, "n": 1}
          ]},
          "mark": {"type": "rect", "fill": "#342f8a", "stroke": "#1c1c1c", "strokeWidth": 1},
          "encoding": {
            "x": {"field": "n", "type": "quantitative", "scale": {"domain": [0, 342], "nice": false}, "axis": {"values": [0, 100, 200, 300], "title": "Frecuencia", "labelPadding": 15, "titlePadding": 12}},
            "x2": {"datum": 0},
            "y": {"field": "lo", "type": "quantitative", "scale": {"domain": [-7, 7], "nice": false}, "axis": {"values": [-6, -4, -2, 0, 2, 4, 6], "labelExpr": "toString(datum.value)", "title": ["Residuos", "ln(IA) - ln(h(θ,u))"], "labelPadding": 15, "titlePadding": 13}},
            "y2": {"field": "hi"}
          }
        },
        {
          "data": {"values": [{}]},
          "mark": {"type": "rect", "fill": "#ffffff", "stroke": "#000000", "strokeWidth": 1.3},
          "encoding": {
            "x": {"datum": 143, "type": "quantitative", "axis": null},
            "x2": {"datum": 339.6},
            "y": {"datum": 6.575, "type": "quantitative", "axis": null},
            "y2": {"datum": 5.086}
          }
        },
        {
          "data": {"values": [{}]},
          "mark": {"type": "text", "align": "left", "baseline": "alphabetic", "font": "Liberation Sans", "fontSize": 25, "lineHeight": 31.7, "color": "#000000"},
          "encoding": {
            "x": {"datum": 153.4, "type": "quantitative", "axis": null},
            "y": {"datum": 5.966, "type": "quantitative", "axis": null},
            "text": {"value": ["Kurtosis= 3.55", "Skewness= 0.29"]}
          }
        },
        {
          "data": {"values": [{"n": 100, "lo": 0}]},
          "mark": {"type": "point", "opacity": 0},
          "encoding": {
            "x": {"field": "n", "type": "quantitative", "axis": {"orient": "top", "values": [0, 100, 200, 300], "labels": false, "title": null}},
            "y": {"field": "lo", "type": "quantitative", "axis": {"orient": "right", "values": [-6, -4, -2, 0, 2, 4, 6], "labels": false, "title": null}}
          }
        }
      ],
      "resolve": {"axis": {"x": "independent", "y": "independent"}}
    }
  ]
}
